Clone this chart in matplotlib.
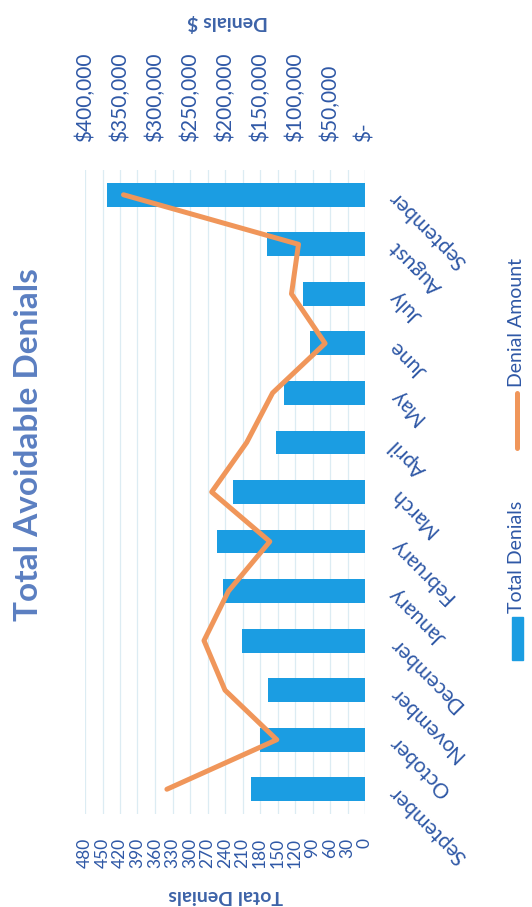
import numpy as np
import matplotlib.pyplot as plt
from matplotlib.patches import Rectangle
from matplotlib.lines import Line2D

plt.rcParams['font.family'] = ['Lato', 'DejaVu Sans']

months = ['September', 'October', 'November', 'December', 'January', 'February',
          'March', 'April', 'May', 'June', 'July', 'August', 'September']
total_denials = [196, 180, 166, 211, 244, 253, 227, 153, 139, 94, 107, 168, 443]
denial_amount = [283000, 126000, 200000, 230000, 195000, 136000, 219000,
                 169000, 132000, 57000, 105000, 95000, 345000]
count_ticks = list(range(0, 481, 30))
dollar_ticks = list(range(0, 400001, 50000))

bar_col = '#1B9DE2'
line_col = '#F0965A'
txt_col = '#2F58A6'
W, H = 532, 907

fig = plt.figure(figsize=(W / 100, H / 100), dpi=100)
ax = fig.add_axes([85 / W, 1 - 814 / H, 280 / W, 644 / H])

y = np.arange(len(months))
ax.barh(y, total_denials, height=0.48, color=bar_col, zorder=2)
ax.set_ylim(-0.5, len(months) - 0.5)
ax.set_xlim(480, 0)
ax.set_xticks(count_ticks)
ax.set_xticklabels([str(v) for v in count_ticks])
ax.tick_params(axis='x', labelrotation=90, pad=17, length=0, labelsize=12.5, labelcolor=txt_col)
ax.grid(axis='x', color='#DCECF3', lw=0.9, zorder=0)
ax.set_axisbelow(True)

ax.yaxis.tick_right()
ax.set_yticks(y)
ax.set_yticklabels(months)
ax.tick_params(axis='y', length=0, pad=20, labelsize=15, labelcolor=txt_col)
for lab in ax.get_yticklabels():
    lab.set_rotation(135)
    lab.set_ha('right')
    lab.set_va('center')
    lab.set_rotation_mode('anchor')

for s in ax.spines.values():
    s.set_visible(False)
ax.axvline(0, color='#DCECF3', lw=0.9, zorder=1)

ax2 = ax.twiny()
ax2.plot(denial_amount, y, color=line_col, lw=3.6, solid_capstyle='round',
         solid_joinstyle='round', zorder=3)
ax2.set_xlim(400000, 0)
ax2.set_xticks(dollar_ticks)
ax2.set_xticklabels(['$-' if v == 0 else f'${v:,}' for v in dollar_ticks])
ax2.tick_params(axis='x', labelrotation=90, pad=20, length=0, labelsize=15, labelcolor=txt_col)
for s in ax2.spines.values():
    s.set_visible(False)

# title and axis titles (chart is printed sideways)
fig.text(29 / W, 1 - 445 / H, 'Total Avoidable Denials', rotation=90, ha='center', va='center',
         fontsize=24, fontweight='bold', color='#5B7FC1')
fig.text(226 / W, 1 - 896 / H, 'Total Denials', rotation=180, ha='center', va='center',
         fontsize=14, fontweight='bold', color='#3D63A8')
fig.text(228 / W, 1 - 22 / H, 'Denials $', rotation=180, ha='center', va='center',
         fontsize=14, fontweight='bold', color='#3D63A8')

# legend
fig.add_artist(Rectangle((512 / W, 1 - 660 / H), 11 / W, 43 / H, transform=fig.transFigure,
                         color=bar_col))
fig.text(517 / W, 1 - 613 / H, 'Total Denials', rotation=90, ha='center', va='bottom',
         fontsize=14, color=txt_col)
fig.add_artist(Line2D([517 / W, 517 / W], [1 - 448 / H, 1 - 393 / H], transform=fig.transFigure,
                      color=line_col, lw=3.6, solid_capstyle='round'))
fig.text(517 / W, 1 - 387 / H, 'Denial Amount', rotation=90, ha='center', va='bottom',
         fontsize=14, color=txt_col)

fig.savefig('out.png', dpi=100)
